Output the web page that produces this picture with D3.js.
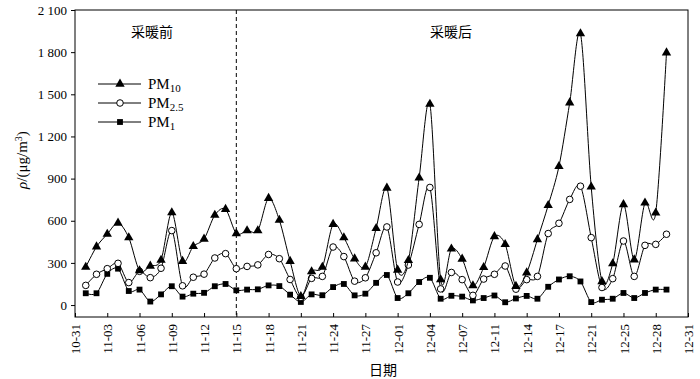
<!DOCTYPE html>
<html><head><meta charset="utf-8">
<script src="https://cdn.jsdelivr.net/npm/d3@7"></script>
<style>body{margin:0;background:#fff}svg{display:block}</style>
</head><body>
<svg id="c" width="700" height="379"></svg>
<script>
const tickLabels = ["10-31","11-03","11-06","11-09","11-12","11-15","11-18","11-21","11-24","11-27","12-01","12-04","12-07","12-11","12-14","12-17","12-21","12-25","12-28","12-31"];
const dayIndex = d3.range(1, 56);
const pm10 = [270,415,505,584,480,245,278,320,658,312,418,470,640,682,509,530,530,760,605,312,62,238,270,575,480,330,271,546,833,250,318,905,1430,181,400,328,138,268,488,432,134,230,467,710,987,1440,1932,841,168,295,716,323,727,656,1796];
const pm25 = [140,219,259,297,160,240,195,262,530,137,198,220,335,366,259,275,286,360,330,182,55,190,204,413,345,170,194,372,556,164,285,574,837,115,232,181,69,185,219,278,113,181,204,509,582,752,846,480,125,188,456,204,425,432,504];
const pm1 = [84,84,222,259,100,110,25,76,134,60,81,87,134,150,105,110,112,140,135,74,22,76,70,128,150,69,81,158,214,50,84,164,194,45,66,60,33,50,68,20,47,65,45,130,182,205,168,21,38,45,86,50,86,110,110];
const yTicks = [0,300,600,900,1200,1500,1800,2100];
const dividerIndex = 15;

const svg = d3.select("#c");
const L = 75, R = 688, T = 10, B = 317;
const x = d3.scaleLinear().domain([0, 57]).range([L, R]);
const y = d3.scaleLinear().domain([-85, 2100]).range([B, T]);
const serif = "'Liberation Serif','Times New Roman',serif";
const cjk = "'Noto Sans CJK SC',sans-serif";

// frame
svg.append("rect").attr("x", L).attr("y", T).attr("width", R - L).attr("height", B - T)
  .attr("fill", "none").attr("stroke", "#000").attr("stroke-width", 1);

// y axis
const yAxis = svg.append("g").attr("transform", `translate(${L},0)`)
  .call(d3.axisLeft(y).tickValues(yTicks).tickSize(4).tickPadding(4)
    .tickFormat(d => d3.format(",")(d).replace(",", " ")));
yAxis.select(".domain").remove();
yAxis.selectAll("text").attr("font-family", serif).attr("font-size", 13).attr("fill", "#000");

// x axis
const xAxis = svg.append("g").attr("transform", `translate(0,${B})`)
  .call(d3.axisBottom(x).tickValues(d3.range(0, 58, 3)).tickSize(-4)
    .tickFormat((d, i) => tickLabels[i]));
xAxis.select(".domain").remove();
xAxis.selectAll("text").attr("font-family", serif).attr("font-size", 13).attr("fill", "#000")
  .attr("text-anchor", "end").attr("dy", "0.35em")
  .attr("transform", "translate(0,7) rotate(-90)").attr("x", 0).attr("y", 0);

// divider
svg.append("line").attr("x1", x(dividerIndex)).attr("x2", x(dividerIndex)).attr("y1", T).attr("y2", B)
  .attr("stroke", "#000").attr("stroke-dasharray", "4,3").attr("stroke-width", 1);

// labels
svg.append("text").attr("x", 152).attr("y", 37).attr("text-anchor", "middle")
  .attr("font-family", cjk).attr("font-size", 14).text("采暖前");
svg.append("text").attr("x", 451).attr("y", 37).attr("text-anchor", "middle")
  .attr("font-family", cjk).attr("font-size", 14).text("采暖后");
svg.append("text").attr("x", 383).attr("y", 375).attr("text-anchor", "middle")
  .attr("font-family", cjk).attr("font-size", 14).text("日期");

const yt = svg.append("text").attr("transform", "translate(27,160) rotate(-90)")
  .attr("text-anchor", "middle").attr("font-family", serif).attr("font-size", 15);
yt.append("tspan").attr("font-style", "italic").text("ρ");
yt.append("tspan").text("/(μg/m");
yt.append("tspan").attr("font-size", 10).attr("dy", -5).text("3");
yt.append("tspan").attr("dy", 5).text(")");

const line = d3.line().x((d, i) => x(dayIndex[i])).y(d => y(d)).curve(d3.curveCardinal.tension(0.1));

const tri = d3.symbol().type(d3.symbolTriangle).size(38);
const sq = d3.symbol().type(d3.symbolSquare).size(34);

function drawSeries(data, kind) {
  svg.append("path").datum(data).attr("d", line).attr("fill", "none").attr("stroke", "#000").attr("stroke-width", 1);
  const g = svg.append("g");
  data.forEach((v, i) => drawMarker(g, x(dayIndex[i]), y(v), kind));
}
function drawMarker(g, cx, cy, kind) {
  if (kind === "tri") g.append("path").attr("d", tri()).attr("transform", `translate(${cx},${cy})`).attr("fill", "#000");
  else if (kind === "sq") g.append("path").attr("d", sq()).attr("transform", `translate(${cx},${cy})`).attr("fill", "#000");
  else g.append("circle").attr("cx", cx).attr("cy", cy).attr("r", 3.3).attr("fill", "#fff").attr("stroke", "#000").attr("stroke-width", 1);
}
drawSeries(pm1, "sq");
drawSeries(pm25, "circ");
drawSeries(pm10, "tri");

// legend
const legend = [["PM", "10", "tri", 84], ["PM", "2.5", "circ", 103], ["PM", "1", "sq", 122]];
const lg = svg.append("g");
legend.forEach(([a, sub, kind, ly]) => {
  lg.append("line").attr("x1", 98).attr("x2", 141).attr("y1", ly).attr("y2", ly).attr("stroke", "#000");
  drawMarker(lg, 120, ly, kind);
  const t = lg.append("text").attr("x", 148).attr("y", ly + 5).attr("font-family", serif).attr("font-size", 15);
  t.append("tspan").text(a);
  t.append("tspan").attr("font-size", 11).attr("dy", 3).text(sub);
});
</script>
</body></html>
